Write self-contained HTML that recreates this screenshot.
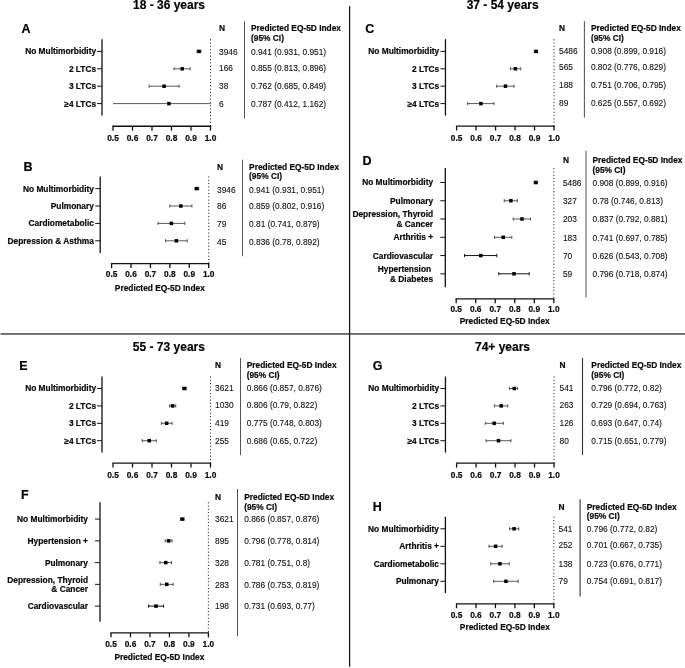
<!DOCTYPE html>
<html><head><meta charset="utf-8"><title>Predicted EQ-5D Index by age group</title>
<style>
html,body{margin:0;padding:0;background:#fff;}
body{width:685px;height:668px;overflow:hidden;font-family:"Liberation Sans",sans-serif;}
svg{display:block;filter:grayscale(1);font-family:"Liberation Sans",sans-serif;}
</style></head><body>
<svg width="685" height="668" viewBox="0 0 685 668">
<rect width="685" height="668" fill="#fff"/>
<rect x="0.5" y="333.25" width="684.5" height="1.4" fill="#383838"/>
<rect x="348.95" y="6.1" width="1.3" height="660.6" fill="#1a1a1a"/>
<text x="169.00" y="9.00" font-size="12" font-weight="bold" stroke="#000" stroke-width="0.18" text-anchor="middle" fill="#000">18 - 36 years</text>
<text x="502.70" y="9.00" font-size="12" font-weight="bold" stroke="#000" stroke-width="0.18" text-anchor="middle" fill="#000">37 - 54 years</text>
<text x="168.90" y="351.00" font-size="12" font-weight="bold" stroke="#000" stroke-width="0.18" text-anchor="middle" fill="#000">55 - 73 years</text>
<text x="502.50" y="351.00" font-size="12" font-weight="bold" stroke="#000" stroke-width="0.18" text-anchor="middle" fill="#000">74+ years</text>
<text x="21.50" y="33.00" font-size="12.5" font-weight="bold" stroke="#000" stroke-width="0.18" fill="#000">A</text>
<line x1="102" y1="39.2" x2="102" y2="115.6" stroke="#111" stroke-width="1.3"/>
<line x1="112.35" y1="126.25" x2="211.15" y2="126.25" stroke="#111" stroke-width="1.3"/>
<line x1="113.00" y1="126.25" x2="113.00" y2="130.65" stroke="#111" stroke-width="1.3"/>
<text x="113.00" y="141.00" font-size="8.35" font-weight="bold" stroke="#000" stroke-width="0.18" text-anchor="middle" fill="#0a0a0a">0.5</text>
<line x1="132.50" y1="126.25" x2="132.50" y2="130.65" stroke="#111" stroke-width="1.3"/>
<text x="132.50" y="141.00" font-size="8.35" font-weight="bold" stroke="#000" stroke-width="0.18" text-anchor="middle" fill="#0a0a0a">0.6</text>
<line x1="152.00" y1="126.25" x2="152.00" y2="130.65" stroke="#111" stroke-width="1.3"/>
<text x="152.00" y="141.00" font-size="8.35" font-weight="bold" stroke="#000" stroke-width="0.18" text-anchor="middle" fill="#0a0a0a">0.7</text>
<line x1="171.50" y1="126.25" x2="171.50" y2="130.65" stroke="#111" stroke-width="1.3"/>
<text x="171.50" y="141.00" font-size="8.35" font-weight="bold" stroke="#000" stroke-width="0.18" text-anchor="middle" fill="#0a0a0a">0.8</text>
<line x1="191.00" y1="126.25" x2="191.00" y2="130.65" stroke="#111" stroke-width="1.3"/>
<text x="191.00" y="141.00" font-size="8.35" font-weight="bold" stroke="#000" stroke-width="0.18" text-anchor="middle" fill="#0a0a0a">0.9</text>
<line x1="210.50" y1="126.25" x2="210.50" y2="130.65" stroke="#111" stroke-width="1.3"/>
<text x="210.50" y="141.00" font-size="8.35" font-weight="bold" stroke="#000" stroke-width="0.18" text-anchor="middle" fill="#0a0a0a">1.0</text>
<line x1="210.50" y1="39.2" x2="210.50" y2="126.25" stroke="#111" stroke-width="1" stroke-dasharray="1 2.3"/>
<text x="219.00" y="31.00" font-size="8.35" font-weight="bold" stroke="#000" stroke-width="0.18" fill="#0a0a0a">N</text>
<text x="251.00" y="31.00" font-size="8.35" font-weight="bold" stroke="#000" stroke-width="0.18" fill="#0a0a0a">Predicted EQ-5D Index</text>
<text x="251.00" y="41.00" font-size="8.35" font-weight="bold" stroke="#000" stroke-width="0.18" fill="#0a0a0a">(95% CI)</text>
<line x1="244.5" y1="21.4" x2="244.5" y2="118.6" stroke="#505050" stroke-width="1"/>
<line x1="97.00" y1="51.4" x2="102" y2="51.4" stroke="#111" stroke-width="1"/>
<text x="96.10" y="54.00" font-size="8.35" font-weight="bold" stroke="#000" stroke-width="0.18" text-anchor="end" fill="#0a0a0a">No Multimorbidity</text>
<line x1="197.05" y1="51.4" x2="200.94" y2="51.4" stroke="#222" stroke-width="0.75"/>
<line x1="197.05" y1="49.8" x2="197.05" y2="53.0" stroke="#222" stroke-width="0.75"/>
<line x1="200.94" y1="49.8" x2="200.94" y2="53.0" stroke="#222" stroke-width="0.75"/>
<rect x="197.25" y="49.65" width="3.5" height="3.5" fill="#000"/>
<text x="219.00" y="55.00" font-size="8.35" stroke="#222" stroke-width="0.1" fill="#0a0a0a">3946</text>
<text x="251.00" y="55.00" font-size="8.35" stroke="#222" stroke-width="0.1" fill="#0a0a0a">0.941 (0.931, 0.951)</text>
<line x1="97.00" y1="68.8" x2="102" y2="68.8" stroke="#111" stroke-width="1"/>
<text x="96.10" y="72.00" font-size="8.35" font-weight="bold" stroke="#000" stroke-width="0.18" text-anchor="end" fill="#0a0a0a">2 LTCs</text>
<line x1="174.03" y1="68.8" x2="190.22" y2="68.8" stroke="#222" stroke-width="0.75"/>
<line x1="174.03" y1="67.2" x2="174.03" y2="70.39999999999999" stroke="#222" stroke-width="0.75"/>
<line x1="190.22" y1="67.2" x2="190.22" y2="70.39999999999999" stroke="#222" stroke-width="0.75"/>
<rect x="180.47" y="67.05" width="3.5" height="3.5" fill="#000"/>
<text x="219.00" y="71.00" font-size="8.35" stroke="#222" stroke-width="0.1" fill="#0a0a0a">166</text>
<text x="251.00" y="71.00" font-size="8.35" stroke="#222" stroke-width="0.1" fill="#0a0a0a">0.855 (0.813, 0.896)</text>
<line x1="97.00" y1="86.2" x2="102" y2="86.2" stroke="#111" stroke-width="1"/>
<text x="96.10" y="89.00" font-size="8.35" font-weight="bold" stroke="#000" stroke-width="0.18" text-anchor="end" fill="#0a0a0a">3 LTCs</text>
<line x1="149.08" y1="86.2" x2="179.10" y2="86.2" stroke="#222" stroke-width="0.75"/>
<line x1="149.08" y1="84.60000000000001" x2="149.08" y2="87.8" stroke="#222" stroke-width="0.75"/>
<line x1="179.10" y1="84.60000000000001" x2="179.10" y2="87.8" stroke="#222" stroke-width="0.75"/>
<rect x="162.34" y="84.45" width="3.5" height="3.5" fill="#000"/>
<text x="219.00" y="89.00" font-size="8.35" stroke="#222" stroke-width="0.1" fill="#0a0a0a">38</text>
<text x="251.00" y="89.00" font-size="8.35" stroke="#222" stroke-width="0.1" fill="#0a0a0a">0.762 (0.685, 0.849)</text>
<line x1="97.00" y1="103.6" x2="102" y2="103.6" stroke="#111" stroke-width="1"/>
<text x="96.10" y="107.00" font-size="8.35" font-weight="bold" stroke="#000" stroke-width="0.18" text-anchor="end" fill="#0a0a0a">≥4 LTCs</text>
<line x1="113.00" y1="103.6" x2="210.80" y2="103.6" stroke="#222" stroke-width="0.75"/>
<rect x="167.22" y="101.85" width="3.5" height="3.5" fill="#000"/>
<text x="219.00" y="107.00" font-size="8.35" stroke="#222" stroke-width="0.1" fill="#0a0a0a">6</text>
<text x="251.00" y="107.00" font-size="8.35" stroke="#222" stroke-width="0.1" fill="#0a0a0a">0.787 (0.412, 1.162)</text>
<text x="23.50" y="171.00" font-size="12.5" font-weight="bold" stroke="#000" stroke-width="0.18" fill="#000">B</text>
<line x1="100.2" y1="176.5" x2="100.2" y2="253" stroke="#111" stroke-width="1.3"/>
<line x1="110.95" y1="263.7" x2="209.35" y2="263.7" stroke="#111" stroke-width="1.3"/>
<line x1="111.60" y1="263.7" x2="111.60" y2="268.10" stroke="#111" stroke-width="1.3"/>
<text x="111.60" y="277.00" font-size="8.35" font-weight="bold" stroke="#000" stroke-width="0.18" text-anchor="middle" fill="#0a0a0a">0.5</text>
<line x1="131.02" y1="263.7" x2="131.02" y2="268.10" stroke="#111" stroke-width="1.3"/>
<text x="131.02" y="277.00" font-size="8.35" font-weight="bold" stroke="#000" stroke-width="0.18" text-anchor="middle" fill="#0a0a0a">0.6</text>
<line x1="150.44" y1="263.7" x2="150.44" y2="268.10" stroke="#111" stroke-width="1.3"/>
<text x="150.44" y="277.00" font-size="8.35" font-weight="bold" stroke="#000" stroke-width="0.18" text-anchor="middle" fill="#0a0a0a">0.7</text>
<line x1="169.86" y1="263.7" x2="169.86" y2="268.10" stroke="#111" stroke-width="1.3"/>
<text x="169.86" y="277.00" font-size="8.35" font-weight="bold" stroke="#000" stroke-width="0.18" text-anchor="middle" fill="#0a0a0a">0.8</text>
<line x1="189.28" y1="263.7" x2="189.28" y2="268.10" stroke="#111" stroke-width="1.3"/>
<text x="189.28" y="277.00" font-size="8.35" font-weight="bold" stroke="#000" stroke-width="0.18" text-anchor="middle" fill="#0a0a0a">0.9</text>
<line x1="208.70" y1="263.7" x2="208.70" y2="268.10" stroke="#111" stroke-width="1.3"/>
<text x="208.70" y="277.00" font-size="8.35" font-weight="bold" stroke="#000" stroke-width="0.18" text-anchor="middle" fill="#0a0a0a">1.0</text>
<text x="159.85" y="291.00" font-size="8.35" font-weight="bold" stroke="#000" stroke-width="0.18" text-anchor="middle" fill="#0a0a0a">Predicted EQ-5D Index</text>
<line x1="208.70" y1="176.5" x2="208.70" y2="263.7" stroke="#111" stroke-width="1" stroke-dasharray="1 2.3"/>
<text x="217.00" y="170.00" font-size="8.35" font-weight="bold" stroke="#000" stroke-width="0.18" fill="#0a0a0a">N</text>
<text x="249.10" y="170.00" font-size="8.35" font-weight="bold" stroke="#000" stroke-width="0.18" fill="#0a0a0a">Predicted EQ-5D Index</text>
<text x="249.10" y="179.00" font-size="8.35" font-weight="bold" stroke="#000" stroke-width="0.18" fill="#0a0a0a">(95% CI)</text>
<line x1="242.5" y1="159.7" x2="242.5" y2="256.2" stroke="#444" stroke-width="0.9"/>
<line x1="95.20" y1="188.6" x2="100.2" y2="188.6" stroke="#111" stroke-width="1"/>
<text x="93.90" y="192.00" font-size="8.35" font-weight="bold" stroke="#000" stroke-width="0.18" text-anchor="end" fill="#0a0a0a">No Multimorbidity</text>
<line x1="194.85" y1="188.6" x2="198.73" y2="188.6" stroke="#222" stroke-width="0.75"/>
<line x1="194.85" y1="187.0" x2="194.85" y2="190.2" stroke="#222" stroke-width="0.75"/>
<line x1="198.73" y1="187.0" x2="198.73" y2="190.2" stroke="#222" stroke-width="0.75"/>
<rect x="195.04" y="186.85" width="3.5" height="3.5" fill="#000"/>
<text x="217.00" y="193.00" font-size="8.35" stroke="#222" stroke-width="0.1" fill="#0a0a0a">3946</text>
<text x="249.10" y="193.00" font-size="8.35" stroke="#222" stroke-width="0.1" fill="#0a0a0a">0.941 (0.931, 0.951)</text>
<line x1="95.20" y1="206.0" x2="100.2" y2="206.0" stroke="#111" stroke-width="1"/>
<text x="93.90" y="209.00" font-size="8.35" font-weight="bold" stroke="#000" stroke-width="0.18" text-anchor="end" fill="#0a0a0a">Pulmonary</text>
<line x1="169.80" y1="206.0" x2="191.94" y2="206.0" stroke="#222" stroke-width="0.75"/>
<line x1="169.80" y1="204.4" x2="169.80" y2="207.6" stroke="#222" stroke-width="0.75"/>
<line x1="191.94" y1="204.4" x2="191.94" y2="207.6" stroke="#222" stroke-width="0.75"/>
<rect x="179.12" y="204.25" width="3.5" height="3.5" fill="#000"/>
<text x="217.00" y="209.00" font-size="8.35" stroke="#222" stroke-width="0.1" fill="#0a0a0a">86</text>
<text x="249.10" y="209.00" font-size="8.35" stroke="#222" stroke-width="0.1" fill="#0a0a0a">0.859 (0.802, 0.916)</text>
<line x1="95.20" y1="223.4" x2="100.2" y2="223.4" stroke="#111" stroke-width="1"/>
<text x="93.90" y="226.00" font-size="8.35" font-weight="bold" stroke="#000" stroke-width="0.18" text-anchor="end" fill="#0a0a0a">Cardiometabolic</text>
<line x1="157.95" y1="223.4" x2="184.75" y2="223.4" stroke="#222" stroke-width="0.75"/>
<line x1="157.95" y1="221.8" x2="157.95" y2="225.0" stroke="#222" stroke-width="0.75"/>
<line x1="184.75" y1="221.8" x2="184.75" y2="225.0" stroke="#222" stroke-width="0.75"/>
<rect x="169.60" y="221.65" width="3.5" height="3.5" fill="#000"/>
<text x="217.00" y="227.00" font-size="8.35" stroke="#222" stroke-width="0.1" fill="#0a0a0a">79</text>
<text x="249.10" y="227.00" font-size="8.35" stroke="#222" stroke-width="0.1" fill="#0a0a0a">0.81 (0.741, 0.879)</text>
<line x1="95.20" y1="240.8" x2="100.2" y2="240.8" stroke="#111" stroke-width="1"/>
<text x="93.90" y="244.00" font-size="8.35" font-weight="bold" stroke="#000" stroke-width="0.18" text-anchor="end" fill="#0a0a0a">Depression &amp; Asthma</text>
<line x1="165.53" y1="240.8" x2="187.28" y2="240.8" stroke="#222" stroke-width="0.75"/>
<line x1="165.53" y1="239.20000000000002" x2="165.53" y2="242.4" stroke="#222" stroke-width="0.75"/>
<line x1="187.28" y1="239.20000000000002" x2="187.28" y2="242.4" stroke="#222" stroke-width="0.75"/>
<rect x="174.65" y="239.05" width="3.5" height="3.5" fill="#000"/>
<text x="217.00" y="245.00" font-size="8.35" stroke="#222" stroke-width="0.1" fill="#0a0a0a">45</text>
<text x="249.10" y="245.00" font-size="8.35" stroke="#222" stroke-width="0.1" fill="#0a0a0a">0.836 (0.78, 0.892)</text>
<text x="365.20" y="33.00" font-size="12.5" font-weight="bold" stroke="#000" stroke-width="0.18" fill="#000">C</text>
<line x1="445.45" y1="39.2" x2="445.45" y2="115.6" stroke="#111" stroke-width="1.3"/>
<line x1="455.95" y1="126.1" x2="554.65" y2="126.1" stroke="#111" stroke-width="1.3"/>
<line x1="456.60" y1="126.1" x2="456.60" y2="130.50" stroke="#111" stroke-width="1.3"/>
<text x="456.60" y="141.00" font-size="8.35" font-weight="bold" stroke="#000" stroke-width="0.18" text-anchor="middle" fill="#0a0a0a">0.5</text>
<line x1="476.08" y1="126.1" x2="476.08" y2="130.50" stroke="#111" stroke-width="1.3"/>
<text x="476.08" y="141.00" font-size="8.35" font-weight="bold" stroke="#000" stroke-width="0.18" text-anchor="middle" fill="#0a0a0a">0.6</text>
<line x1="495.56" y1="126.1" x2="495.56" y2="130.50" stroke="#111" stroke-width="1.3"/>
<text x="495.56" y="141.00" font-size="8.35" font-weight="bold" stroke="#000" stroke-width="0.18" text-anchor="middle" fill="#0a0a0a">0.7</text>
<line x1="515.04" y1="126.1" x2="515.04" y2="130.50" stroke="#111" stroke-width="1.3"/>
<text x="515.04" y="141.00" font-size="8.35" font-weight="bold" stroke="#000" stroke-width="0.18" text-anchor="middle" fill="#0a0a0a">0.8</text>
<line x1="534.52" y1="126.1" x2="534.52" y2="130.50" stroke="#111" stroke-width="1.3"/>
<text x="534.52" y="141.00" font-size="8.35" font-weight="bold" stroke="#000" stroke-width="0.18" text-anchor="middle" fill="#0a0a0a">0.9</text>
<line x1="554.00" y1="126.1" x2="554.00" y2="130.50" stroke="#111" stroke-width="1.3"/>
<text x="554.00" y="141.00" font-size="8.35" font-weight="bold" stroke="#000" stroke-width="0.18" text-anchor="middle" fill="#0a0a0a">1.0</text>
<line x1="554.00" y1="39.2" x2="554.00" y2="126.1" stroke="#111" stroke-width="1" stroke-dasharray="1 2.3"/>
<text x="559.00" y="31.00" font-size="8.35" font-weight="bold" stroke="#000" stroke-width="0.18" fill="#0a0a0a">N</text>
<text x="590.90" y="31.00" font-size="8.35" font-weight="bold" stroke="#000" stroke-width="0.18" fill="#0a0a0a">Predicted EQ-5D Index</text>
<text x="590.90" y="41.00" font-size="8.35" font-weight="bold" stroke="#000" stroke-width="0.18" fill="#0a0a0a">(95% CI)</text>
<line x1="584.4" y1="21.1" x2="584.4" y2="117.6" stroke="#505050" stroke-width="1"/>
<line x1="440.45" y1="51.4" x2="445.45" y2="51.4" stroke="#111" stroke-width="1"/>
<text x="439.20" y="54.00" font-size="8.35" font-weight="bold" stroke="#000" stroke-width="0.18" text-anchor="end" fill="#0a0a0a">No Multimorbidity</text>
<line x1="534.33" y1="51.4" x2="537.64" y2="51.4" stroke="#222" stroke-width="0.75"/>
<line x1="534.33" y1="49.8" x2="534.33" y2="53.0" stroke="#222" stroke-width="0.75"/>
<line x1="537.64" y1="49.8" x2="537.64" y2="53.0" stroke="#222" stroke-width="0.75"/>
<rect x="534.33" y="49.65" width="3.5" height="3.5" fill="#000"/>
<text x="559.00" y="54.00" font-size="8.35" stroke="#222" stroke-width="0.1" fill="#0a0a0a">5486</text>
<text x="590.90" y="54.00" font-size="8.35" stroke="#222" stroke-width="0.1" fill="#0a0a0a">0.908 (0.899, 0.916)</text>
<line x1="440.45" y1="68.8" x2="445.45" y2="68.8" stroke="#111" stroke-width="1"/>
<text x="439.20" y="72.00" font-size="8.35" font-weight="bold" stroke="#000" stroke-width="0.18" text-anchor="end" fill="#0a0a0a">2 LTCs</text>
<line x1="510.36" y1="68.8" x2="520.69" y2="68.8" stroke="#222" stroke-width="0.75"/>
<line x1="510.36" y1="67.2" x2="510.36" y2="70.39999999999999" stroke="#222" stroke-width="0.75"/>
<line x1="520.69" y1="67.2" x2="520.69" y2="70.39999999999999" stroke="#222" stroke-width="0.75"/>
<rect x="513.68" y="67.05" width="3.5" height="3.5" fill="#000"/>
<text x="559.00" y="70.00" font-size="8.35" stroke="#222" stroke-width="0.1" fill="#0a0a0a">565</text>
<text x="590.90" y="70.00" font-size="8.35" stroke="#222" stroke-width="0.1" fill="#0a0a0a">0.802 (0.776, 0.829)</text>
<line x1="440.45" y1="86.2" x2="445.45" y2="86.2" stroke="#111" stroke-width="1"/>
<text x="439.20" y="89.00" font-size="8.35" font-weight="bold" stroke="#000" stroke-width="0.18" text-anchor="end" fill="#0a0a0a">3 LTCs</text>
<line x1="496.73" y1="86.2" x2="514.07" y2="86.2" stroke="#222" stroke-width="0.75"/>
<line x1="496.73" y1="84.60000000000001" x2="496.73" y2="87.8" stroke="#222" stroke-width="0.75"/>
<line x1="514.07" y1="84.60000000000001" x2="514.07" y2="87.8" stroke="#222" stroke-width="0.75"/>
<rect x="503.74" y="84.45" width="3.5" height="3.5" fill="#000"/>
<text x="559.00" y="88.00" font-size="8.35" stroke="#222" stroke-width="0.1" fill="#0a0a0a">188</text>
<text x="590.90" y="88.00" font-size="8.35" stroke="#222" stroke-width="0.1" fill="#0a0a0a">0.751 (0.706, 0.795)</text>
<line x1="440.45" y1="103.6" x2="445.45" y2="103.6" stroke="#111" stroke-width="1"/>
<text x="439.20" y="107.00" font-size="8.35" font-weight="bold" stroke="#000" stroke-width="0.18" text-anchor="end" fill="#0a0a0a">≥4 LTCs</text>
<line x1="467.70" y1="103.6" x2="494.00" y2="103.6" stroke="#222" stroke-width="0.75"/>
<line x1="467.70" y1="102.0" x2="467.70" y2="105.19999999999999" stroke="#222" stroke-width="0.75"/>
<line x1="494.00" y1="102.0" x2="494.00" y2="105.19999999999999" stroke="#222" stroke-width="0.75"/>
<rect x="479.20" y="101.85" width="3.5" height="3.5" fill="#000"/>
<text x="559.00" y="106.00" font-size="8.35" stroke="#222" stroke-width="0.1" fill="#0a0a0a">89</text>
<text x="590.90" y="106.00" font-size="8.35" stroke="#222" stroke-width="0.1" fill="#0a0a0a">0.625 (0.557, 0.692)</text>
<text x="362.40" y="165.00" font-size="12.5" font-weight="bold" stroke="#000" stroke-width="0.18" fill="#000">D</text>
<line x1="445.3" y1="168.1" x2="445.3" y2="287.2" stroke="#111" stroke-width="1.3"/>
<line x1="455.55" y1="298.8" x2="554.45" y2="298.8" stroke="#111" stroke-width="1.3"/>
<line x1="456.20" y1="298.8" x2="456.20" y2="303.20" stroke="#111" stroke-width="1.3"/>
<text x="456.20" y="312.00" font-size="8.35" font-weight="bold" stroke="#000" stroke-width="0.18" text-anchor="middle" fill="#0a0a0a">0.5</text>
<line x1="475.72" y1="298.8" x2="475.72" y2="303.20" stroke="#111" stroke-width="1.3"/>
<text x="475.72" y="312.00" font-size="8.35" font-weight="bold" stroke="#000" stroke-width="0.18" text-anchor="middle" fill="#0a0a0a">0.6</text>
<line x1="495.24" y1="298.8" x2="495.24" y2="303.20" stroke="#111" stroke-width="1.3"/>
<text x="495.24" y="312.00" font-size="8.35" font-weight="bold" stroke="#000" stroke-width="0.18" text-anchor="middle" fill="#0a0a0a">0.7</text>
<line x1="514.76" y1="298.8" x2="514.76" y2="303.20" stroke="#111" stroke-width="1.3"/>
<text x="514.76" y="312.00" font-size="8.35" font-weight="bold" stroke="#000" stroke-width="0.18" text-anchor="middle" fill="#0a0a0a">0.8</text>
<line x1="534.28" y1="298.8" x2="534.28" y2="303.20" stroke="#111" stroke-width="1.3"/>
<text x="534.28" y="312.00" font-size="8.35" font-weight="bold" stroke="#000" stroke-width="0.18" text-anchor="middle" fill="#0a0a0a">0.9</text>
<line x1="553.80" y1="298.8" x2="553.80" y2="303.20" stroke="#111" stroke-width="1.3"/>
<text x="553.80" y="312.00" font-size="8.35" font-weight="bold" stroke="#000" stroke-width="0.18" text-anchor="middle" fill="#0a0a0a">1.0</text>
<text x="504.70" y="324.00" font-size="8.35" font-weight="bold" stroke="#000" stroke-width="0.18" text-anchor="middle" fill="#0a0a0a">Predicted EQ-5D Index</text>
<line x1="553.80" y1="168.1" x2="553.80" y2="298.8" stroke="#111" stroke-width="1" stroke-dasharray="1 2.3"/>
<text x="562.90" y="163.00" font-size="8.35" font-weight="bold" stroke="#000" stroke-width="0.18" fill="#0a0a0a">N</text>
<text x="592.50" y="163.00" font-size="8.35" font-weight="bold" stroke="#000" stroke-width="0.18" fill="#0a0a0a">Predicted EQ-5D Index</text>
<text x="592.50" y="173.00" font-size="8.35" font-weight="bold" stroke="#000" stroke-width="0.18" fill="#0a0a0a">(95% CI)</text>
<line x1="586" y1="150.8" x2="586" y2="297.4" stroke="#999" stroke-width="1.7"/>
<line x1="440.30" y1="182.5" x2="445.3" y2="182.5" stroke="#111" stroke-width="1"/>
<text x="433.10" y="185.00" font-size="8.35" font-weight="bold" stroke="#000" stroke-width="0.18" text-anchor="end" fill="#0a0a0a">No Multimorbidity</text>
<line x1="534.08" y1="182.5" x2="537.40" y2="182.5" stroke="#222" stroke-width="0.75"/>
<line x1="534.08" y1="180.9" x2="534.08" y2="184.1" stroke="#222" stroke-width="0.75"/>
<line x1="537.40" y1="180.9" x2="537.40" y2="184.1" stroke="#222" stroke-width="0.75"/>
<rect x="534.09" y="180.75" width="3.5" height="3.5" fill="#000"/>
<text x="562.90" y="186.00" font-size="8.35" stroke="#222" stroke-width="0.1" fill="#0a0a0a">5486</text>
<text x="592.50" y="186.00" font-size="8.35" stroke="#222" stroke-width="0.1" fill="#0a0a0a">0.908 (0.899, 0.916)</text>
<line x1="440.30" y1="200.75" x2="445.3" y2="200.75" stroke="#111" stroke-width="1"/>
<text x="433.10" y="204.00" font-size="8.35" font-weight="bold" stroke="#000" stroke-width="0.18" text-anchor="end" fill="#0a0a0a">Pulmonary</text>
<line x1="504.22" y1="200.75" x2="517.30" y2="200.75" stroke="#222" stroke-width="0.75"/>
<line x1="504.22" y1="199.15" x2="504.22" y2="202.35" stroke="#222" stroke-width="0.75"/>
<line x1="517.30" y1="199.15" x2="517.30" y2="202.35" stroke="#222" stroke-width="0.75"/>
<rect x="509.11" y="199.00" width="3.5" height="3.5" fill="#000"/>
<text x="562.90" y="204.00" font-size="8.35" stroke="#222" stroke-width="0.1" fill="#0a0a0a">327</text>
<text x="592.50" y="204.00" font-size="8.35" stroke="#222" stroke-width="0.1" fill="#0a0a0a">0.78 (0.746, 0.813)</text>
<line x1="440.30" y1="219.0" x2="445.3" y2="219.0" stroke="#111" stroke-width="1"/>
<text x="433.10" y="217.00" font-size="8.35" font-weight="bold" stroke="#000" stroke-width="0.18" text-anchor="end" fill="#0a0a0a">Depression, Thyroid</text>
<text x="433.10" y="227.00" font-size="8.35" font-weight="bold" stroke="#000" stroke-width="0.18" text-anchor="end" fill="#0a0a0a">&amp; Cancer</text>
<line x1="513.20" y1="219.0" x2="530.57" y2="219.0" stroke="#222" stroke-width="0.75"/>
<line x1="513.20" y1="217.4" x2="513.20" y2="220.6" stroke="#222" stroke-width="0.75"/>
<line x1="530.57" y1="217.4" x2="530.57" y2="220.6" stroke="#222" stroke-width="0.75"/>
<rect x="520.23" y="217.25" width="3.5" height="3.5" fill="#000"/>
<text x="562.90" y="222.00" font-size="8.35" stroke="#222" stroke-width="0.1" fill="#0a0a0a">203</text>
<text x="592.50" y="222.00" font-size="8.35" stroke="#222" stroke-width="0.1" fill="#0a0a0a">0.837 (0.792, 0.881)</text>
<line x1="440.30" y1="237.3" x2="445.3" y2="237.3" stroke="#111" stroke-width="1"/>
<text x="433.10" y="240.00" font-size="8.35" font-weight="bold" stroke="#000" stroke-width="0.18" text-anchor="end" fill="#0a0a0a">Arthritis +</text>
<line x1="494.65" y1="237.3" x2="511.83" y2="237.3" stroke="#222" stroke-width="0.75"/>
<line x1="494.65" y1="235.70000000000002" x2="494.65" y2="238.9" stroke="#222" stroke-width="0.75"/>
<line x1="511.83" y1="235.70000000000002" x2="511.83" y2="238.9" stroke="#222" stroke-width="0.75"/>
<rect x="501.49" y="235.55" width="3.5" height="3.5" fill="#000"/>
<text x="562.90" y="241.00" font-size="8.35" stroke="#222" stroke-width="0.1" fill="#0a0a0a">183</text>
<text x="592.50" y="241.00" font-size="8.35" stroke="#222" stroke-width="0.1" fill="#0a0a0a">0.741 (0.697, 0.785)</text>
<line x1="440.30" y1="255.55" x2="445.3" y2="255.55" stroke="#111" stroke-width="1"/>
<text x="433.10" y="259.00" font-size="8.35" font-weight="bold" stroke="#000" stroke-width="0.18" text-anchor="end" fill="#0a0a0a">Cardiovascular</text>
<line x1="464.59" y1="255.55" x2="496.80" y2="255.55" stroke="#111" stroke-width="1.0"/>
<line x1="464.59" y1="253.95000000000002" x2="464.59" y2="257.15000000000003" stroke="#111" stroke-width="1.0"/>
<line x1="496.80" y1="253.95000000000002" x2="496.80" y2="257.15000000000003" stroke="#111" stroke-width="1.0"/>
<rect x="479.05" y="253.80" width="3.5" height="3.5" fill="#000"/>
<text x="562.90" y="259.00" font-size="8.35" stroke="#222" stroke-width="0.1" fill="#0a0a0a">70</text>
<text x="592.50" y="259.00" font-size="8.35" stroke="#222" stroke-width="0.1" fill="#0a0a0a">0.626 (0.543, 0.708)</text>
<line x1="440.30" y1="273.8" x2="445.3" y2="273.8" stroke="#111" stroke-width="1"/>
<text x="431.10" y="272.00" font-size="8.35" font-weight="bold" stroke="#000" stroke-width="0.18" text-anchor="end" fill="#0a0a0a">Hypertension</text>
<text x="433.10" y="282.00" font-size="8.35" font-weight="bold" stroke="#000" stroke-width="0.18" text-anchor="end" fill="#0a0a0a">&amp; Diabetes</text>
<line x1="498.75" y1="273.8" x2="529.20" y2="273.8" stroke="#111" stroke-width="1.0"/>
<line x1="498.75" y1="272.2" x2="498.75" y2="275.40000000000003" stroke="#111" stroke-width="1.0"/>
<line x1="529.20" y1="272.2" x2="529.20" y2="275.40000000000003" stroke="#111" stroke-width="1.0"/>
<rect x="512.23" y="272.05" width="3.5" height="3.5" fill="#000"/>
<text x="562.90" y="277.00" font-size="8.35" stroke="#222" stroke-width="0.1" fill="#0a0a0a">59</text>
<text x="592.50" y="277.00" font-size="8.35" stroke="#222" stroke-width="0.1" fill="#0a0a0a">0.796 (0.718, 0.874)</text>
<text x="19.20" y="370.00" font-size="12.5" font-weight="bold" stroke="#000" stroke-width="0.18" fill="#000">E</text>
<line x1="102" y1="376.5" x2="102" y2="452.6" stroke="#111" stroke-width="1.3"/>
<line x1="112.35" y1="463.2" x2="211.15" y2="463.2" stroke="#111" stroke-width="1.3"/>
<line x1="113.00" y1="463.2" x2="113.00" y2="467.60" stroke="#111" stroke-width="1.3"/>
<text x="113.00" y="478.00" font-size="8.35" font-weight="bold" stroke="#000" stroke-width="0.18" text-anchor="middle" fill="#0a0a0a">0.5</text>
<line x1="132.50" y1="463.2" x2="132.50" y2="467.60" stroke="#111" stroke-width="1.3"/>
<text x="132.50" y="478.00" font-size="8.35" font-weight="bold" stroke="#000" stroke-width="0.18" text-anchor="middle" fill="#0a0a0a">0.6</text>
<line x1="152.00" y1="463.2" x2="152.00" y2="467.60" stroke="#111" stroke-width="1.3"/>
<text x="152.00" y="478.00" font-size="8.35" font-weight="bold" stroke="#000" stroke-width="0.18" text-anchor="middle" fill="#0a0a0a">0.7</text>
<line x1="171.50" y1="463.2" x2="171.50" y2="467.60" stroke="#111" stroke-width="1.3"/>
<text x="171.50" y="478.00" font-size="8.35" font-weight="bold" stroke="#000" stroke-width="0.18" text-anchor="middle" fill="#0a0a0a">0.8</text>
<line x1="191.00" y1="463.2" x2="191.00" y2="467.60" stroke="#111" stroke-width="1.3"/>
<text x="191.00" y="478.00" font-size="8.35" font-weight="bold" stroke="#000" stroke-width="0.18" text-anchor="middle" fill="#0a0a0a">0.9</text>
<line x1="210.50" y1="463.2" x2="210.50" y2="467.60" stroke="#111" stroke-width="1.3"/>
<text x="210.50" y="478.00" font-size="8.35" font-weight="bold" stroke="#000" stroke-width="0.18" text-anchor="middle" fill="#0a0a0a">1.0</text>
<line x1="210.50" y1="376.5" x2="210.50" y2="463.2" stroke="#111" stroke-width="1" stroke-dasharray="1 2.3"/>
<text x="215.00" y="368.00" font-size="8.35" font-weight="bold" stroke="#000" stroke-width="0.18" fill="#0a0a0a">N</text>
<text x="246.70" y="368.00" font-size="8.35" font-weight="bold" stroke="#000" stroke-width="0.18" fill="#0a0a0a">Predicted EQ-5D Index</text>
<text x="246.70" y="378.00" font-size="8.35" font-weight="bold" stroke="#000" stroke-width="0.18" fill="#0a0a0a">(95% CI)</text>
<line x1="240.5" y1="357.9" x2="240.5" y2="455.1" stroke="#555" stroke-width="1"/>
<line x1="97.00" y1="388.5" x2="102" y2="388.5" stroke="#111" stroke-width="1"/>
<text x="96.10" y="391.00" font-size="8.35" font-weight="bold" stroke="#000" stroke-width="0.18" text-anchor="end" fill="#0a0a0a">No Multimorbidity</text>
<line x1="182.62" y1="388.5" x2="186.32" y2="388.5" stroke="#222" stroke-width="0.75"/>
<line x1="182.62" y1="386.9" x2="182.62" y2="390.1" stroke="#222" stroke-width="0.75"/>
<line x1="186.32" y1="386.9" x2="186.32" y2="390.1" stroke="#222" stroke-width="0.75"/>
<rect x="182.62" y="386.75" width="3.5" height="3.5" fill="#000"/>
<text x="215.00" y="391.00" font-size="8.35" stroke="#222" stroke-width="0.1" fill="#0a0a0a">3621</text>
<text x="246.70" y="391.00" font-size="8.35" stroke="#222" stroke-width="0.1" fill="#0a0a0a">0.866 (0.857, 0.876)</text>
<line x1="97.00" y1="405.9" x2="102" y2="405.9" stroke="#111" stroke-width="1"/>
<text x="96.10" y="409.00" font-size="8.35" font-weight="bold" stroke="#000" stroke-width="0.18" text-anchor="end" fill="#0a0a0a">2 LTCs</text>
<line x1="169.55" y1="405.9" x2="175.79" y2="405.9" stroke="#222" stroke-width="0.75"/>
<line x1="169.55" y1="404.29999999999995" x2="169.55" y2="407.5" stroke="#222" stroke-width="0.75"/>
<line x1="175.79" y1="404.29999999999995" x2="175.79" y2="407.5" stroke="#222" stroke-width="0.75"/>
<rect x="170.92" y="404.15" width="3.5" height="3.5" fill="#000"/>
<text x="215.00" y="408.00" font-size="8.35" stroke="#222" stroke-width="0.1" fill="#0a0a0a">1030</text>
<text x="246.70" y="408.00" font-size="8.35" stroke="#222" stroke-width="0.1" fill="#0a0a0a">0.806 (0.79, 0.822)</text>
<line x1="97.00" y1="423.3" x2="102" y2="423.3" stroke="#111" stroke-width="1"/>
<text x="96.10" y="426.00" font-size="8.35" font-weight="bold" stroke="#000" stroke-width="0.18" text-anchor="end" fill="#0a0a0a">3 LTCs</text>
<line x1="161.36" y1="423.3" x2="172.09" y2="423.3" stroke="#222" stroke-width="0.75"/>
<line x1="161.36" y1="421.7" x2="161.36" y2="424.90000000000003" stroke="#222" stroke-width="0.75"/>
<line x1="172.09" y1="421.7" x2="172.09" y2="424.90000000000003" stroke="#222" stroke-width="0.75"/>
<rect x="164.88" y="421.55" width="3.5" height="3.5" fill="#000"/>
<text x="215.00" y="426.00" font-size="8.35" stroke="#222" stroke-width="0.1" fill="#0a0a0a">419</text>
<text x="246.70" y="426.00" font-size="8.35" stroke="#222" stroke-width="0.1" fill="#0a0a0a">0.775 (0.748, 0.803)</text>
<line x1="97.00" y1="440.7" x2="102" y2="440.7" stroke="#111" stroke-width="1"/>
<text x="96.10" y="444.00" font-size="8.35" font-weight="bold" stroke="#000" stroke-width="0.18" text-anchor="end" fill="#0a0a0a">≥4 LTCs</text>
<line x1="142.25" y1="440.7" x2="156.29" y2="440.7" stroke="#222" stroke-width="0.75"/>
<line x1="142.25" y1="439.09999999999997" x2="142.25" y2="442.3" stroke="#222" stroke-width="0.75"/>
<line x1="156.29" y1="439.09999999999997" x2="156.29" y2="442.3" stroke="#222" stroke-width="0.75"/>
<rect x="147.52" y="438.95" width="3.5" height="3.5" fill="#000"/>
<text x="215.00" y="444.00" font-size="8.35" stroke="#222" stroke-width="0.1" fill="#0a0a0a">255</text>
<text x="246.70" y="444.00" font-size="8.35" stroke="#222" stroke-width="0.1" fill="#0a0a0a">0.686 (0.65, 0.722)</text>
<text x="21.00" y="499.00" font-size="12.5" font-weight="bold" stroke="#000" stroke-width="0.18" fill="#000">F</text>
<line x1="100" y1="502.2" x2="100" y2="621.7" stroke="#111" stroke-width="1.3"/>
<line x1="110.35" y1="632.9" x2="209.05" y2="632.9" stroke="#111" stroke-width="1.3"/>
<line x1="111.00" y1="632.9" x2="111.00" y2="637.30" stroke="#111" stroke-width="1.3"/>
<text x="111.00" y="647.00" font-size="8.35" font-weight="bold" stroke="#000" stroke-width="0.18" text-anchor="middle" fill="#0a0a0a">0.5</text>
<line x1="130.48" y1="632.9" x2="130.48" y2="637.30" stroke="#111" stroke-width="1.3"/>
<text x="130.48" y="647.00" font-size="8.35" font-weight="bold" stroke="#000" stroke-width="0.18" text-anchor="middle" fill="#0a0a0a">0.6</text>
<line x1="149.96" y1="632.9" x2="149.96" y2="637.30" stroke="#111" stroke-width="1.3"/>
<text x="149.96" y="647.00" font-size="8.35" font-weight="bold" stroke="#000" stroke-width="0.18" text-anchor="middle" fill="#0a0a0a">0.7</text>
<line x1="169.44" y1="632.9" x2="169.44" y2="637.30" stroke="#111" stroke-width="1.3"/>
<text x="169.44" y="647.00" font-size="8.35" font-weight="bold" stroke="#000" stroke-width="0.18" text-anchor="middle" fill="#0a0a0a">0.8</text>
<line x1="188.92" y1="632.9" x2="188.92" y2="637.30" stroke="#111" stroke-width="1.3"/>
<text x="188.92" y="647.00" font-size="8.35" font-weight="bold" stroke="#000" stroke-width="0.18" text-anchor="middle" fill="#0a0a0a">0.9</text>
<line x1="208.40" y1="632.9" x2="208.40" y2="637.30" stroke="#111" stroke-width="1.3"/>
<text x="208.40" y="647.00" font-size="8.35" font-weight="bold" stroke="#000" stroke-width="0.18" text-anchor="middle" fill="#0a0a0a">1.0</text>
<text x="159.40" y="660.00" font-size="8.35" font-weight="bold" stroke="#000" stroke-width="0.18" text-anchor="middle" fill="#0a0a0a">Predicted EQ-5D Index</text>
<line x1="208.40" y1="502.2" x2="208.40" y2="632.9" stroke="#111" stroke-width="1" stroke-dasharray="1 2.3"/>
<text x="215.00" y="500.00" font-size="8.35" font-weight="bold" stroke="#000" stroke-width="0.18" fill="#0a0a0a">N</text>
<text x="244.20" y="500.00" font-size="8.35" font-weight="bold" stroke="#000" stroke-width="0.18" fill="#0a0a0a">Predicted EQ-5D Index</text>
<text x="244.20" y="510.00" font-size="8.35" font-weight="bold" stroke="#000" stroke-width="0.18" fill="#0a0a0a">(95% CI)</text>
<line x1="237.5" y1="489" x2="237.5" y2="636" stroke="#505050" stroke-width="1"/>
<line x1="95.00" y1="519.1" x2="100" y2="519.1" stroke="#111" stroke-width="1"/>
<text x="88.00" y="522.00" font-size="8.35" font-weight="bold" stroke="#000" stroke-width="0.18" text-anchor="end" fill="#0a0a0a">No Multimorbidity</text>
<line x1="180.54" y1="519.1" x2="184.24" y2="519.1" stroke="#222" stroke-width="0.75"/>
<line x1="180.54" y1="517.5" x2="180.54" y2="520.7" stroke="#222" stroke-width="0.75"/>
<line x1="184.24" y1="517.5" x2="184.24" y2="520.7" stroke="#222" stroke-width="0.75"/>
<rect x="180.55" y="517.35" width="3.5" height="3.5" fill="#000"/>
<text x="215.00" y="522.00" font-size="8.35" stroke="#222" stroke-width="0.1" fill="#0a0a0a">3621</text>
<text x="244.20" y="522.00" font-size="8.35" stroke="#222" stroke-width="0.1" fill="#0a0a0a">0.866 (0.857, 0.876)</text>
<line x1="95.00" y1="540.85" x2="100" y2="540.85" stroke="#111" stroke-width="1"/>
<text x="88.00" y="544.00" font-size="8.35" font-weight="bold" stroke="#000" stroke-width="0.18" text-anchor="end" fill="#0a0a0a">Hypertension +</text>
<line x1="165.15" y1="540.85" x2="172.17" y2="540.85" stroke="#222" stroke-width="0.75"/>
<line x1="165.15" y1="539.25" x2="165.15" y2="542.45" stroke="#222" stroke-width="0.75"/>
<line x1="172.17" y1="539.25" x2="172.17" y2="542.45" stroke="#222" stroke-width="0.75"/>
<rect x="166.91" y="539.10" width="3.5" height="3.5" fill="#000"/>
<text x="215.00" y="544.00" font-size="8.35" stroke="#222" stroke-width="0.1" fill="#0a0a0a">895</text>
<text x="244.20" y="544.00" font-size="8.35" stroke="#222" stroke-width="0.1" fill="#0a0a0a">0.796 (0.778, 0.814)</text>
<line x1="95.00" y1="562.6" x2="100" y2="562.6" stroke="#111" stroke-width="1"/>
<text x="88.00" y="566.00" font-size="8.35" font-weight="bold" stroke="#000" stroke-width="0.18" text-anchor="end" fill="#0a0a0a">Pulmonary</text>
<line x1="159.89" y1="562.6" x2="171.58" y2="562.6" stroke="#222" stroke-width="0.75"/>
<line x1="159.89" y1="561.0" x2="159.89" y2="564.2" stroke="#222" stroke-width="0.75"/>
<line x1="171.58" y1="561.0" x2="171.58" y2="564.2" stroke="#222" stroke-width="0.75"/>
<rect x="163.99" y="560.85" width="3.5" height="3.5" fill="#000"/>
<text x="215.00" y="566.00" font-size="8.35" stroke="#222" stroke-width="0.1" fill="#0a0a0a">328</text>
<text x="244.20" y="566.00" font-size="8.35" stroke="#222" stroke-width="0.1" fill="#0a0a0a">0.781 (0.751, 0.8)</text>
<line x1="95.00" y1="584.35" x2="100" y2="584.35" stroke="#111" stroke-width="1"/>
<text x="88.00" y="583.00" font-size="8.35" font-weight="bold" stroke="#000" stroke-width="0.18" text-anchor="end" fill="#0a0a0a">Depression, Thyroid</text>
<text x="88.00" y="592.00" font-size="8.35" font-weight="bold" stroke="#000" stroke-width="0.18" text-anchor="end" fill="#0a0a0a">&amp; Cancer</text>
<line x1="160.28" y1="584.35" x2="173.14" y2="584.35" stroke="#222" stroke-width="0.75"/>
<line x1="160.28" y1="582.75" x2="160.28" y2="585.95" stroke="#222" stroke-width="0.75"/>
<line x1="173.14" y1="582.75" x2="173.14" y2="585.95" stroke="#222" stroke-width="0.75"/>
<rect x="164.96" y="582.60" width="3.5" height="3.5" fill="#000"/>
<text x="215.00" y="588.00" font-size="8.35" stroke="#222" stroke-width="0.1" fill="#0a0a0a">283</text>
<text x="244.20" y="588.00" font-size="8.35" stroke="#222" stroke-width="0.1" fill="#0a0a0a">0.786 (0.753, 0.819)</text>
<line x1="95.00" y1="606.1" x2="100" y2="606.1" stroke="#111" stroke-width="1"/>
<text x="88.00" y="609.00" font-size="8.35" font-weight="bold" stroke="#000" stroke-width="0.18" text-anchor="end" fill="#0a0a0a">Cardiovascular</text>
<line x1="148.60" y1="606.1" x2="163.60" y2="606.1" stroke="#111" stroke-width="1.0"/>
<line x1="148.60" y1="604.5" x2="148.60" y2="607.7" stroke="#111" stroke-width="1.0"/>
<line x1="163.60" y1="604.5" x2="163.60" y2="607.7" stroke="#111" stroke-width="1.0"/>
<rect x="154.25" y="604.35" width="3.5" height="3.5" fill="#000"/>
<text x="215.00" y="609.00" font-size="8.35" stroke="#222" stroke-width="0.1" fill="#0a0a0a">198</text>
<text x="244.20" y="609.00" font-size="8.35" stroke="#222" stroke-width="0.1" fill="#0a0a0a">0.731 (0.693, 0.77)</text>
<text x="372.80" y="370.00" font-size="12.5" font-weight="bold" stroke="#000" stroke-width="0.18" fill="#000">G</text>
<line x1="445.45" y1="376.5" x2="445.45" y2="452.6" stroke="#111" stroke-width="1.3"/>
<line x1="455.95" y1="463.2" x2="554.65" y2="463.2" stroke="#111" stroke-width="1.3"/>
<line x1="456.60" y1="463.2" x2="456.60" y2="467.60" stroke="#111" stroke-width="1.3"/>
<text x="456.60" y="478.00" font-size="8.35" font-weight="bold" stroke="#000" stroke-width="0.18" text-anchor="middle" fill="#0a0a0a">0.5</text>
<line x1="476.08" y1="463.2" x2="476.08" y2="467.60" stroke="#111" stroke-width="1.3"/>
<text x="476.08" y="478.00" font-size="8.35" font-weight="bold" stroke="#000" stroke-width="0.18" text-anchor="middle" fill="#0a0a0a">0.6</text>
<line x1="495.56" y1="463.2" x2="495.56" y2="467.60" stroke="#111" stroke-width="1.3"/>
<text x="495.56" y="478.00" font-size="8.35" font-weight="bold" stroke="#000" stroke-width="0.18" text-anchor="middle" fill="#0a0a0a">0.7</text>
<line x1="515.04" y1="463.2" x2="515.04" y2="467.60" stroke="#111" stroke-width="1.3"/>
<text x="515.04" y="478.00" font-size="8.35" font-weight="bold" stroke="#000" stroke-width="0.18" text-anchor="middle" fill="#0a0a0a">0.8</text>
<line x1="534.52" y1="463.2" x2="534.52" y2="467.60" stroke="#111" stroke-width="1.3"/>
<text x="534.52" y="478.00" font-size="8.35" font-weight="bold" stroke="#000" stroke-width="0.18" text-anchor="middle" fill="#0a0a0a">0.9</text>
<line x1="554.00" y1="463.2" x2="554.00" y2="467.60" stroke="#111" stroke-width="1.3"/>
<text x="554.00" y="478.00" font-size="8.35" font-weight="bold" stroke="#000" stroke-width="0.18" text-anchor="middle" fill="#0a0a0a">1.0</text>
<line x1="554.00" y1="376.5" x2="554.00" y2="463.2" stroke="#111" stroke-width="1" stroke-dasharray="1 2.3"/>
<text x="559.50" y="368.00" font-size="8.35" font-weight="bold" stroke="#000" stroke-width="0.18" fill="#0a0a0a">N</text>
<text x="591.35" y="368.00" font-size="8.35" font-weight="bold" stroke="#000" stroke-width="0.18" fill="#0a0a0a">Predicted EQ-5D Index</text>
<text x="591.35" y="378.00" font-size="8.35" font-weight="bold" stroke="#000" stroke-width="0.18" fill="#0a0a0a">(95% CI)</text>
<line x1="582.5" y1="357.9" x2="582.5" y2="455.1" stroke="#333" stroke-width="1.1"/>
<line x1="440.45" y1="388.5" x2="445.45" y2="388.5" stroke="#111" stroke-width="1"/>
<text x="439.20" y="391.00" font-size="8.35" font-weight="bold" stroke="#000" stroke-width="0.18" text-anchor="end" fill="#0a0a0a">No Multimorbidity</text>
<line x1="509.59" y1="388.5" x2="517.57" y2="388.5" stroke="#222" stroke-width="0.75"/>
<line x1="509.59" y1="386.9" x2="509.59" y2="390.1" stroke="#222" stroke-width="0.75"/>
<line x1="517.57" y1="386.9" x2="517.57" y2="390.1" stroke="#222" stroke-width="0.75"/>
<rect x="512.51" y="386.75" width="3.5" height="3.5" fill="#000"/>
<text x="559.50" y="391.00" font-size="8.35" stroke="#222" stroke-width="0.1" fill="#0a0a0a">541</text>
<text x="591.35" y="391.00" font-size="8.35" stroke="#222" stroke-width="0.1" fill="#0a0a0a">0.796 (0.772, 0.82)</text>
<line x1="440.45" y1="405.9" x2="445.45" y2="405.9" stroke="#111" stroke-width="1"/>
<text x="439.20" y="409.00" font-size="8.35" font-weight="bold" stroke="#000" stroke-width="0.18" text-anchor="end" fill="#0a0a0a">2 LTCs</text>
<line x1="494.39" y1="405.9" x2="507.83" y2="405.9" stroke="#222" stroke-width="0.75"/>
<line x1="494.39" y1="404.29999999999995" x2="494.39" y2="407.5" stroke="#222" stroke-width="0.75"/>
<line x1="507.83" y1="404.29999999999995" x2="507.83" y2="407.5" stroke="#222" stroke-width="0.75"/>
<rect x="499.46" y="404.15" width="3.5" height="3.5" fill="#000"/>
<text x="559.50" y="408.00" font-size="8.35" stroke="#222" stroke-width="0.1" fill="#0a0a0a">263</text>
<text x="591.35" y="408.00" font-size="8.35" stroke="#222" stroke-width="0.1" fill="#0a0a0a">0.729 (0.694, 0.763)</text>
<line x1="440.45" y1="423.3" x2="445.45" y2="423.3" stroke="#111" stroke-width="1"/>
<text x="439.20" y="426.00" font-size="8.35" font-weight="bold" stroke="#000" stroke-width="0.18" text-anchor="end" fill="#0a0a0a">3 LTCs</text>
<line x1="485.24" y1="423.3" x2="503.35" y2="423.3" stroke="#222" stroke-width="0.75"/>
<line x1="485.24" y1="421.7" x2="485.24" y2="424.90000000000003" stroke="#222" stroke-width="0.75"/>
<line x1="503.35" y1="421.7" x2="503.35" y2="424.90000000000003" stroke="#222" stroke-width="0.75"/>
<rect x="492.45" y="421.55" width="3.5" height="3.5" fill="#000"/>
<text x="559.50" y="426.00" font-size="8.35" stroke="#222" stroke-width="0.1" fill="#0a0a0a">126</text>
<text x="591.35" y="426.00" font-size="8.35" stroke="#222" stroke-width="0.1" fill="#0a0a0a">0.693 (0.647, 0.74)</text>
<line x1="440.45" y1="440.7" x2="445.45" y2="440.7" stroke="#111" stroke-width="1"/>
<text x="439.20" y="444.00" font-size="8.35" font-weight="bold" stroke="#000" stroke-width="0.18" text-anchor="end" fill="#0a0a0a">≥4 LTCs</text>
<line x1="486.01" y1="440.7" x2="510.95" y2="440.7" stroke="#222" stroke-width="0.75"/>
<line x1="486.01" y1="439.09999999999997" x2="486.01" y2="442.3" stroke="#222" stroke-width="0.75"/>
<line x1="510.95" y1="439.09999999999997" x2="510.95" y2="442.3" stroke="#222" stroke-width="0.75"/>
<rect x="496.73" y="438.95" width="3.5" height="3.5" fill="#000"/>
<text x="559.50" y="444.00" font-size="8.35" stroke="#222" stroke-width="0.1" fill="#0a0a0a">80</text>
<text x="591.35" y="444.00" font-size="8.35" stroke="#222" stroke-width="0.1" fill="#0a0a0a">0.715 (0.651, 0.779)</text>
<text x="372.80" y="511.00" font-size="12.5" font-weight="bold" stroke="#000" stroke-width="0.18" fill="#000">H</text>
<line x1="445.4" y1="516.7" x2="445.4" y2="593.1" stroke="#111" stroke-width="1.3"/>
<line x1="455.85" y1="603.8" x2="554.45" y2="603.8" stroke="#111" stroke-width="1.3"/>
<line x1="456.50" y1="603.8" x2="456.50" y2="608.20" stroke="#111" stroke-width="1.3"/>
<text x="456.50" y="618.00" font-size="8.35" font-weight="bold" stroke="#000" stroke-width="0.18" text-anchor="middle" fill="#0a0a0a">0.5</text>
<line x1="475.96" y1="603.8" x2="475.96" y2="608.20" stroke="#111" stroke-width="1.3"/>
<text x="475.96" y="618.00" font-size="8.35" font-weight="bold" stroke="#000" stroke-width="0.18" text-anchor="middle" fill="#0a0a0a">0.6</text>
<line x1="495.42" y1="603.8" x2="495.42" y2="608.20" stroke="#111" stroke-width="1.3"/>
<text x="495.42" y="618.00" font-size="8.35" font-weight="bold" stroke="#000" stroke-width="0.18" text-anchor="middle" fill="#0a0a0a">0.7</text>
<line x1="514.88" y1="603.8" x2="514.88" y2="608.20" stroke="#111" stroke-width="1.3"/>
<text x="514.88" y="618.00" font-size="8.35" font-weight="bold" stroke="#000" stroke-width="0.18" text-anchor="middle" fill="#0a0a0a">0.8</text>
<line x1="534.34" y1="603.8" x2="534.34" y2="608.20" stroke="#111" stroke-width="1.3"/>
<text x="534.34" y="618.00" font-size="8.35" font-weight="bold" stroke="#000" stroke-width="0.18" text-anchor="middle" fill="#0a0a0a">0.9</text>
<line x1="553.80" y1="603.8" x2="553.80" y2="608.20" stroke="#111" stroke-width="1.3"/>
<text x="553.80" y="618.00" font-size="8.35" font-weight="bold" stroke="#000" stroke-width="0.18" text-anchor="middle" fill="#0a0a0a">1.0</text>
<text x="504.85" y="630.00" font-size="8.35" font-weight="bold" stroke="#000" stroke-width="0.18" text-anchor="middle" fill="#0a0a0a">Predicted EQ-5D Index</text>
<line x1="553.80" y1="516.7" x2="553.80" y2="603.8" stroke="#111" stroke-width="1" stroke-dasharray="1 2.3"/>
<text x="558.50" y="510.00" font-size="8.35" font-weight="bold" stroke="#000" stroke-width="0.18" fill="#0a0a0a">N</text>
<text x="586.80" y="510.00" font-size="8.35" font-weight="bold" stroke="#000" stroke-width="0.18" fill="#0a0a0a">Predicted EQ-5D Index</text>
<text x="586.80" y="519.00" font-size="8.35" font-weight="bold" stroke="#000" stroke-width="0.18" fill="#0a0a0a">(95% CI)</text>
<line x1="580.1" y1="499.2" x2="580.1" y2="596.4" stroke="#444" stroke-width="1.2"/>
<line x1="440.40" y1="528.8" x2="445.4" y2="528.8" stroke="#111" stroke-width="1"/>
<text x="439.00" y="532.00" font-size="8.35" font-weight="bold" stroke="#000" stroke-width="0.18" text-anchor="end" fill="#0a0a0a">No Multimorbidity</text>
<line x1="509.43" y1="528.8" x2="518.77" y2="528.8" stroke="#222" stroke-width="0.75"/>
<line x1="509.43" y1="527.1999999999999" x2="509.43" y2="530.4" stroke="#222" stroke-width="0.75"/>
<line x1="518.77" y1="527.1999999999999" x2="518.77" y2="530.4" stroke="#222" stroke-width="0.75"/>
<rect x="512.35" y="527.05" width="3.5" height="3.5" fill="#000"/>
<text x="558.50" y="532.00" font-size="8.35" stroke="#222" stroke-width="0.1" fill="#0a0a0a">541</text>
<text x="586.80" y="532.00" font-size="8.35" stroke="#222" stroke-width="0.1" fill="#0a0a0a">0.796 (0.772, 0.82)</text>
<line x1="440.40" y1="546.3" x2="445.4" y2="546.3" stroke="#111" stroke-width="1"/>
<text x="439.00" y="549.00" font-size="8.35" font-weight="bold" stroke="#000" stroke-width="0.18" text-anchor="end" fill="#0a0a0a">Arthritis +</text>
<line x1="489.00" y1="546.3" x2="502.23" y2="546.3" stroke="#222" stroke-width="0.75"/>
<line x1="489.00" y1="544.6999999999999" x2="489.00" y2="547.9" stroke="#222" stroke-width="0.75"/>
<line x1="502.23" y1="544.6999999999999" x2="502.23" y2="547.9" stroke="#222" stroke-width="0.75"/>
<rect x="493.86" y="544.55" width="3.5" height="3.5" fill="#000"/>
<text x="558.50" y="548.00" font-size="8.35" stroke="#222" stroke-width="0.1" fill="#0a0a0a">252</text>
<text x="586.80" y="548.00" font-size="8.35" stroke="#222" stroke-width="0.1" fill="#0a0a0a">0.701 (0.667, 0.735)</text>
<line x1="440.40" y1="563.8" x2="445.4" y2="563.8" stroke="#111" stroke-width="1"/>
<text x="439.00" y="567.00" font-size="8.35" font-weight="bold" stroke="#000" stroke-width="0.18" text-anchor="end" fill="#0a0a0a">Cardiometabolic</text>
<line x1="490.75" y1="563.8" x2="509.24" y2="563.8" stroke="#222" stroke-width="0.75"/>
<line x1="490.75" y1="562.1999999999999" x2="490.75" y2="565.4" stroke="#222" stroke-width="0.75"/>
<line x1="509.24" y1="562.1999999999999" x2="509.24" y2="565.4" stroke="#222" stroke-width="0.75"/>
<rect x="498.15" y="562.05" width="3.5" height="3.5" fill="#000"/>
<text x="558.50" y="567.00" font-size="8.35" stroke="#222" stroke-width="0.1" fill="#0a0a0a">138</text>
<text x="586.80" y="567.00" font-size="8.35" stroke="#222" stroke-width="0.1" fill="#0a0a0a">0.723 (0.676, 0.771)</text>
<line x1="440.40" y1="581.3" x2="445.4" y2="581.3" stroke="#111" stroke-width="1"/>
<text x="439.00" y="584.00" font-size="8.35" font-weight="bold" stroke="#000" stroke-width="0.18" text-anchor="end" fill="#0a0a0a">Pulmonary</text>
<line x1="493.67" y1="581.3" x2="518.19" y2="581.3" stroke="#222" stroke-width="0.75"/>
<line x1="493.67" y1="579.6999999999999" x2="493.67" y2="582.9" stroke="#222" stroke-width="0.75"/>
<line x1="518.19" y1="579.6999999999999" x2="518.19" y2="582.9" stroke="#222" stroke-width="0.75"/>
<rect x="504.18" y="579.55" width="3.5" height="3.5" fill="#000"/>
<text x="558.50" y="584.00" font-size="8.35" stroke="#222" stroke-width="0.1" fill="#0a0a0a">79</text>
<text x="586.80" y="584.00" font-size="8.35" stroke="#222" stroke-width="0.1" fill="#0a0a0a">0.754 (0.691, 0.817)</text>
</svg>
</body></html>
